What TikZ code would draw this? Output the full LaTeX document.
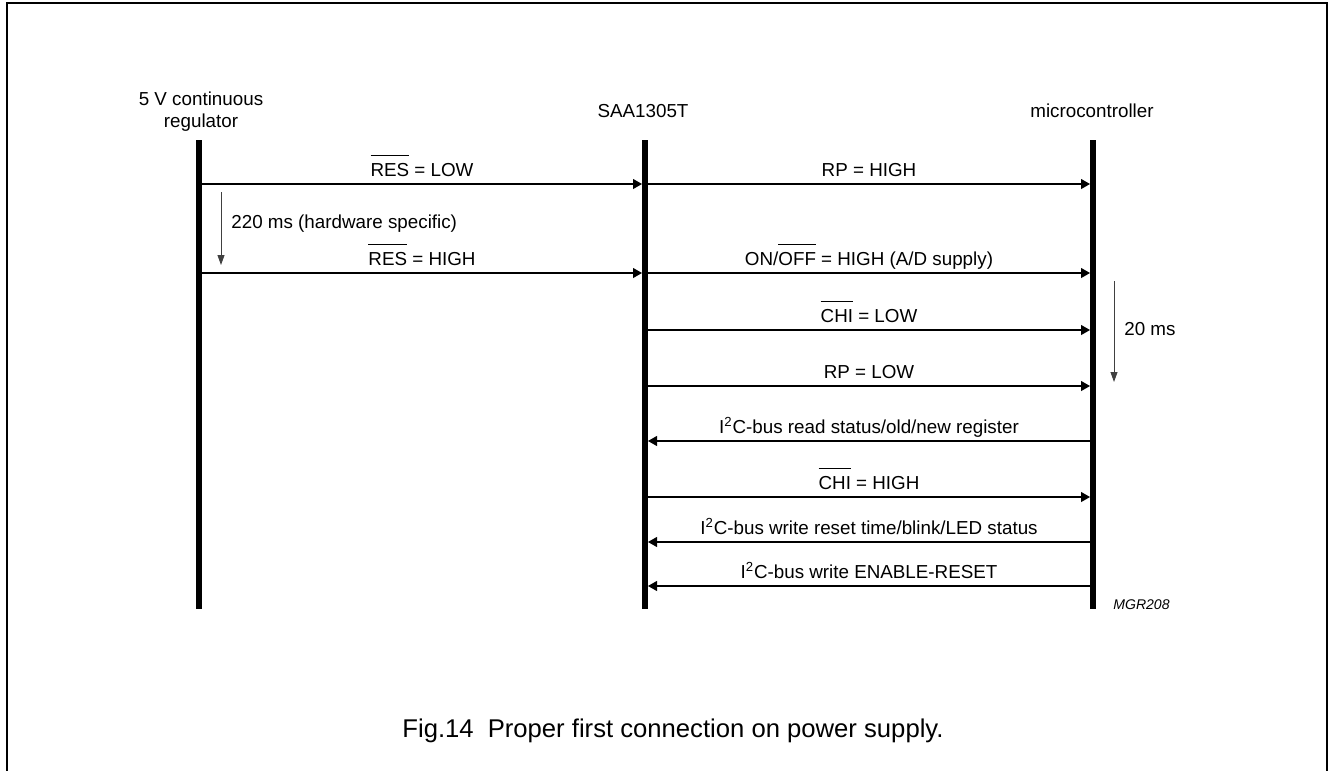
\documentclass[tikz,border=0pt]{standalone}
\usepackage{fontspec}
\setmainfont{Liberation Sans}
\usetikzlibrary{arrows.meta,positioning,calc}

\newsavebox{\ovlbox}
\newcommand{\ovl}[1]{\sbox{\ovlbox}{#1}\rlap{\rule[\dimexpr\ht\ovlbox+3.8pt\relax]{\wd\ovlbox}{0.5pt}}\usebox{\ovlbox}}

\tikzset{
    txt/.style={font=\fontsize{10.7}{12.5}\selectfont, inner sep=0pt},
    lifeline/.style={line width=0.12cm},
    msg/.style={-{Triangle[length=0.18cm,width=0.2cm]}, line width=0.6pt,
        shorten <=0.06cm, shorten >=0.06cm},
    delay/.style={-{Triangle[length=0.2cm,width=0.14cm]}, line width=0.5pt, black!75},
    lbl/.style={txt, anchor=base, yshift=0.16cm}
}

\begin{document}
\begin{tikzpicture}[x=0.02cm, y=-0.02cm]
    \useasboundingbox (0,0) rectangle (1329,771);

    % Frame
    \draw[line width=0.04cm] (7,771) -- (7,3) -- (1327,3) -- (1327,771);

    % Headers
    \node[txt, align=center, anchor=base] (reghead) at (201,127) {5 V continuous\\regulator};
    \node[txt, anchor=base] (saahead) at (643,117) {SAA1305T};
    \node[txt, anchor=base] (mchead) at (1092,117) {microcontroller};

    % Lifelines
    \coordinate (reg) at (199,140);
    \coordinate (saa) at (645,140);
    \coordinate (mc) at (1093,140);
    \foreach \l in {reg, saa, mc}
        \draw[lifeline] (\l) -- (\l |- 0,609);

    % Messages
    \foreach \a/\b/\y/\t in {reg/saa/184/{\ovl{RES} = LOW},
            saa/mc/184/{RP = HIGH},
            reg/saa/273/{\ovl{RES} = HIGH},
            saa/mc/273/{ON/\ovl{OFF} = HIGH (A/D supply)},
            saa/mc/330/{\ovl{CHI} = LOW},
            saa/mc/386/{RP = LOW},
            mc/saa/441/{I\textsuperscript{2}C-bus read status/old/new register},
            saa/mc/497/{\ovl{CHI} = HIGH},
            mc/saa/542/{I\textsuperscript{2}C-bus write reset time/blink/LED status},
            mc/saa/586/{I\textsuperscript{2}C-bus write ENABLE-RESET}}
        \draw[msg] (\a |- 0,\y) -- node[lbl] {\t} (\b |- 0,\y);

    % Delays
    \coordinate (d1a) at (221,192);
    \coordinate (d1b) at (221,265);
    \draw[delay] (d1a) -- (d1b);
    \node[txt, anchor=base west] (d1lbl) at (231,228) {220 ms (hardware specific)};

    \coordinate (d2a) at (1114,281);
    \coordinate (d2b) at (1114,382);
    \draw[delay] (d2a) -- (d2b);
    \node[txt, anchor=base west] (d2lbl) at (1124,335) {20 ms};

    % Code and caption
    \node[anchor=base west, inner sep=0pt, font=\itshape\fontsize{8}{9.6}\selectfont] (code) at (1113,609) {MGR208};
    \node[anchor=base, inner sep=0pt, font=\fontsize{14.6}{17}\selectfont] (caption) at (673,737)
        {Fig.14\hspace{0.55em}Proper first connection on power supply.};
\end{tikzpicture}
\end{document}
